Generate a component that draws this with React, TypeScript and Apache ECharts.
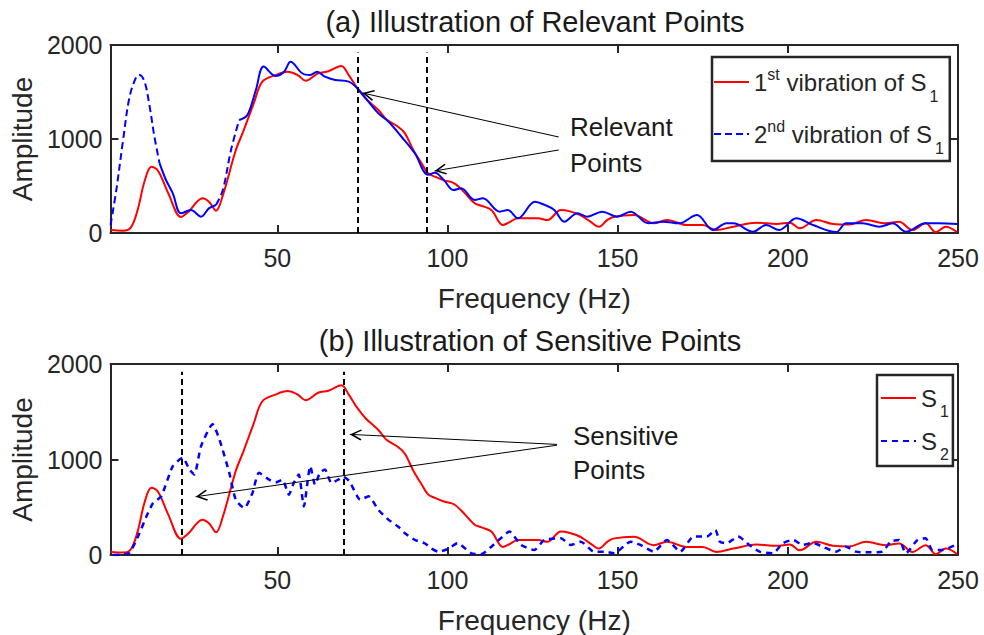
import React, { useEffect, useRef } from 'react';
import * as echarts from 'echarts';

// Frequency axis (Hz) and amplitude axis settings
const FREQ_MIN = 1;
const FREQ_MAX = 250;
const freqTicks = [50, 100, 150, 200, 250];
const AMP_MAX = 2000;
const AMP_STEP = 1000;

// Spectrum of the 1st vibration of S1 — [frequency (Hz), amplitude]
const s1First: [number, number][] = [
  [1, 32], [4.7, 25], [7, 60], [9, 250], [11, 550], [13, 705], [15, 660], [18, 420],
  [21.7, 170], [24, 230], [28, 370], [30, 330], [32, 237], [34, 400], [37.8, 880],
  [40, 1080], [43, 1370], [45.6, 1610], [49.5, 1680], [53, 1716], [56, 1680],
  [58.3, 1620], [62, 1699], [65, 1720], [68.8, 1777], [71, 1680], [73.5, 1540],
  [76, 1430], [79.7, 1309], [82, 1210], [85.5, 1131], [87.5, 1060], [90, 880],
  [92.4, 741], [94.3, 635], [96.3, 599], [99, 560], [102, 529], [105, 430], [108, 316],
  [110, 290], [112.9, 245], [116.3, 85], [118, 110], [120.7, 156], [126.5, 156],
  [129.4, 138], [133.3, 245], [136, 230], [139, 191], [142, 120], [144.5, 67],
  [147, 140], [149, 174], [154.8, 191], [160.6, 103], [164.5, 138], [170.3, 85],
  [175, 85], [179, 32], [184, 67], [190.8, 110], [196.7, 96], [200.6, 110],
  [203.5, 50], [208.4, 138], [213.3, 96], [218, 90], [223, 138], [228.8, 103],
  [232.7, 120], [236.6, 32], [240.5, 103], [243.5, 8], [246.4, 67], [249.8, 8],
];

// Spectrum of the 2nd vibration of S1
const s1Second: [number, number][] = [
  [1, 85], [2.7, 457], [4.7, 990], [6.6, 1450], [8.6, 1663], [9.5, 1680], [11, 1610],
  [12.5, 1344], [13.9, 1024], [15.4, 744], [17.3, 564], [19.3, 422], [21.7, 209],
  [24.6, 244], [27.6, 174], [29.9, 262], [32, 298], [34, 457], [36.4, 883],
  [38.8, 1202], [41.2, 1255], [43.7, 1521], [46, 1770], [49.5, 1670], [52, 1716],
  [53.9, 1822], [57.3, 1699], [59.7, 1681], [61.7, 1716], [64, 1663], [67, 1628],
  [71, 1610], [73.5, 1540], [76.8, 1397], [79.7, 1273], [82.7, 1184], [86.5, 1024],
  [90.4, 848], [94.3, 620], [96.3, 640], [99, 560], [101.7, 457], [104, 475],
  [108, 351], [110.4, 369], [115.3, 227], [117.7, 244], [120.7, 156], [125.7, 333],
  [128.5, 300], [131.4, 245], [134.3, 120], [138.2, 209], [141, 174], [145.5, 227],
  [149.8, 174], [153.8, 227], [159, 103], [163.4, 121], [168, 103], [173.3, 191],
  [178, 32], [182, 103], [184, 103], [189.8, 14], [193.6, 85], [197.5, 32],
  [202.5, 156], [207.4, 85], [214.2, 10], [217.1, 103], [222, 103], [226.9, 67],
  [230.8, 103], [234.7, 14], [240.5, 103], [244.4, 103], [249.8, 96],
];

// Spectrum of S2
const s2Spectrum: [number, number][] = [
  [1.8, 0], [4, 5], [6.6, 24], [9.5, 228], [11.5, 400], [13.5, 544], [15.9, 614],
  [19.3, 930], [22.2, 1018], [24.2, 895], [25.6, 842], [27.6, 1140], [31, 1368],
  [33, 1210], [35.9, 860], [37.8, 579], [40.3, 491], [42.7, 649], [44.6, 860],
  [47.6, 789], [49.5, 760], [51.5, 789], [53.4, 632], [54.9, 760], [56.3, 842],
  [57.8, 509], [59.7, 930], [61.1, 737], [62.5, 860], [64, 895], [65.9, 754],
  [67.9, 789], [69.3, 822], [71.2, 772], [74.4, 579], [76.8, 614], [79.7, 474],
  [82.7, 368], [85.5, 298], [87.5, 228], [90.4, 158], [93.3, 123], [95.2, 70],
  [97.3, 35], [100, 60], [103, 123], [107, 18], [110, 10], [112.9, 87], [115.5, 170],
  [118.2, 245], [121.6, 105], [125.5, 53], [128.5, 158], [133.3, 175], [136.2, 105],
  [139.2, 140], [143, 35], [146, 35], [149, 18], [153.8, 140], [156.7, 105],
  [160.6, 35], [164.5, 158], [168.4, 35], [172.3, 193], [176.2, 193], [178.7, 263],
  [180, 140], [182, 122], [185.4, 193], [188.7, 105], [191.7, 35], [195.6, 18],
  [198.5, 122], [201.5, 158], [204.4, 105], [207.3, 128], [210.2, 87], [214.2, 35],
  [217.1, 87], [220, 35], [223.9, 28], [227.8, 35], [230.2, 140], [232.7, 158],
  [234.7, 18], [238.1, 158], [240.5, 175], [242.5, 53], [245.4, 53], [249.3, 105],
];

// Marked frequencies (Hz)
const relevantFreqs = [73.5, 94];
const sensitiveFreqs = [22, 69.5];

const FONT = '"Liberation Sans", Arial, Helvetica, sans-serif';
const INK = '#262626';
const RED = '#ff0000';
const BLUE = '#0000ff';

// open arrow head, apex at the top
const ARROW_HEAD = 'path://M0,0L6,10L4.8,11L0,3.2L-4.8,11L-6,10Z';

const NAME_FIRST = '1st vibration of S1';
const NAME_SECOND = '2nd vibration of S1';
const NAME_S1 = 'S1';
const NAME_S2 = 'S2';

const legendLabels: Record<string, string> = {
  [NAME_FIRST]: '{t|1}{sup|st}{t| vibration of S}{sub|1}',
  [NAME_SECOND]: '{t|2}{sup|nd}{t| vibration of S}{sub|1}',
  [NAME_S1]: '{t|S}{sub|1}',
  [NAME_S2]: '{t|S}{sub|2}',
};

// the dashed pattern of the 2nd vibration only shows on its steep stretches
const secondDashBreaks = [15.4, 32, 38.8];

function splitAt(points: [number, number][], cuts: number[]) {
  const parts: [number, number][][] = [[]];
  let ci = 0;
  for (const p of points) {
    parts[parts.length - 1].push(p);
    while (ci < cuts.length && p[0] >= cuts[ci]) {
      parts.push([p]);
      ci++;
    }
  }
  return parts.filter((p) => p.length > 1);
}

function freqAxes(gridIndex: number) {
  const line = { show: true, onZero: false, lineStyle: { color: INK, width: 2 } };
  const tick = { show: true, inside: true, length: 8, customValues: freqTicks, lineStyle: { color: INK, width: 2 } };
  return [
    {
      gridIndex, type: 'value', min: FREQ_MIN, max: FREQ_MAX, position: 'bottom',
      axisLine: line, axisTick: tick, splitLine: { show: false },
      axisLabel: { show: true, customValues: freqTicks, fontSize: 25, color: INK, fontFamily: FONT, margin: 12 },
      name: 'Frequency (Hz)', nameLocation: 'middle', nameGap: 51,
      nameTextStyle: { fontSize: 28, color: INK, fontFamily: FONT },
    },
    {
      gridIndex, type: 'value', min: FREQ_MIN, max: FREQ_MAX, position: 'top',
      axisLine: line, axisTick: tick, splitLine: { show: false },
      axisLabel: { show: false },
    },
  ];
}

function ampAxes(gridIndex: number) {
  const line = { show: true, onZero: false, lineStyle: { color: INK, width: 2 } };
  const tick = { show: true, inside: true, length: 8, lineStyle: { color: INK, width: 2 } };
  return [
    {
      gridIndex, type: 'value', min: 0, max: AMP_MAX, interval: AMP_STEP, position: 'left',
      axisLine: line, axisTick: tick, splitLine: { show: false },
      axisLabel: { fontSize: 25, color: INK, fontFamily: FONT, margin: 8, formatter: (v: number) => String(v) },
      name: 'Amplitude', nameLocation: 'middle', nameRotate: 90, nameGap: 68,
      nameTextStyle: { fontSize: 28, color: INK, fontFamily: FONT },
    },
    {
      gridIndex, type: 'value', min: 0, max: AMP_MAX, interval: AMP_STEP, position: 'right',
      axisLine: line, axisTick: tick, splitLine: { show: false },
      axisLabel: { show: false },
    },
  ];
}

function markerLines(freqs: number[]) {
  return {
    silent: true,
    symbol: ['none', 'none'],
    label: { show: false },
    lineStyle: { color: '#000', type: [6, 4], width: 2 },
    data: freqs.map((f) => [{ coord: [f, 0] }, { coord: [f, 1920] }]),
  };
}

function arrows(list: [[number, number], [number, number]][]) {
  return {
    silent: true,
    symbol: ['none', ARROW_HEAD],
    symbolSize: [11, 12],
    label: { show: false },
    lineStyle: { color: '#000', type: 'solid', width: 1 },
    data: list.map(([from, to]) => [
      { coord: from },
      { coord: to, symbolOffset: [0, 6] },
    ]),
  };
}

function legendBox(
  names: string[], left: number, top: number, padding: number[], itemGap: number,
  supHeight: number, subHeight: number,
) {
  return {
    data: names,
    orient: 'vertical',
    left, top, padding, itemGap,
    itemWidth: 35, itemHeight: 14,
    selectedMode: false,
    backgroundColor: '#fff',
    borderColor: INK,
    borderWidth: 2.5,
    borderRadius: 0,
    itemStyle: { color: 'transparent', borderWidth: 0, opacity: 0 },
    formatter: (name: string) => legendLabels[name],
    textStyle: {
      color: INK,
      fontFamily: FONT,
      fontSize: 24,
      lineHeight: 40,
      rich: {
        t: { fontSize: 24, lineHeight: 40, fontFamily: FONT, color: INK },
        sup: { fontSize: 16, height: supHeight, lineHeight: 40, verticalAlign: 'top', fontFamily: FONT, color: INK },
        sub: { fontSize: 16, height: subHeight, lineHeight: 40, verticalAlign: 'bottom', fontFamily: FONT, color: INK, padding: [0, 0, 0, 3] },
      },
    },
  };
}

function textMark(text: string, x: number, y: number, size: number, align: string) {
  return {
    type: 'text', x, y, silent: true,
    style: {
      text, fill: '#1a1a1a', fontSize: size, fontFamily: FONT,
      align, textAlign: align, verticalAlign: 'middle', textVerticalAlign: 'middle',
    },
  };
}

function buildOption() {
  const lineBase = { type: 'line', symbol: 'none', showSymbol: false, silent: true };
  const secondParts = splitAt(s1Second, secondDashBreaks);

  const series: any[] = [
    {
      ...lineBase, name: NAME_FIRST, xAxisIndex: 0, yAxisIndex: 0, smooth: 0.35,
      data: s1First, z: 3,
      lineStyle: { color: RED, width: 2 }, itemStyle: { color: RED },
      markLine: markerLines(relevantFreqs),
    },
    ...secondParts.map((part, i) => ({
      ...lineBase, name: NAME_SECOND, xAxisIndex: 0, yAxisIndex: 0, smooth: 0.35,
      data: part, z: 3,
      lineStyle: { color: BLUE, width: 2, type: i % 2 === 0 ? [7, 4] : 'solid' },
      itemStyle: { color: BLUE },
      ...(i === secondParts.length - 1
        ? { markLine: arrows([[[132.7, 1021], [75, 1490]], [[132.7, 883], [96.2, 660]]]) }
        : {}),
    })),
    {
      ...lineBase, name: NAME_S1, xAxisIndex: 2, yAxisIndex: 2, smooth: 0.35,
      data: s1First, z: 3,
      lineStyle: { color: RED, width: 2 }, itemStyle: { color: RED },
      markLine: markerLines(sensitiveFreqs),
    },
    {
      ...lineBase, name: NAME_S2, xAxisIndex: 2, yAxisIndex: 2, smooth: 0.2,
      data: s2Spectrum, z: 3,
      lineStyle: { color: BLUE, width: 2.5, type: [6, 5] }, itemStyle: { color: BLUE },
      markLine: arrows([[[132.2, 1158], [71.3, 1263]], [[132.2, 1150], [26, 610]]]),
    },
  ];

  return {
    animation: false,
    backgroundColor: '#ffffff',
    textStyle: { fontFamily: FONT },
    grid: [
      { left: 108, right: 26, top: 45, height: 188 },
      { left: 108, right: 26, top: 364, height: 191 },
    ],
    xAxis: [...freqAxes(0), ...freqAxes(1)],
    yAxis: [...ampAxes(0), ...ampAxes(1)],
    legend: [
      legendBox([NAME_FIRST, NAME_SECOND], 712, 57, [5, 6, 5, 1], 10, 24, 12),
      legendBox([NAME_S1, NAME_S2], 877, 375, [3, 4, 4, 3], 2, 24, 14),
    ],
    graphic: [
      textMark('(a) Illustration of Relevant Points', 535, 22, 29, 'center'),
      textMark('(b) Illustration of Sensitive Points', 530, 341, 29, 'center'),
      textMark('Relevant', 570, 127, 26, 'left'),
      textMark('Points', 570, 163, 26, 'left'),
      textMark('Sensitive', 573, 436, 26, 'left'),
      textMark('Points', 573, 470, 26, 'left'),
    ],
    series,
  };
}

export default function App() {
  const ref = useRef<HTMLDivElement>(null);

  useEffect(() => {
    if (!ref.current) return;
    const chart = echarts.init(ref.current, null, { renderer: 'svg' });
    chart.setOption(buildOption() as any);
    return () => chart.dispose();
  }, []);

  return (
    <div
      ref={ref}
      style={{ position: 'fixed', left: 0, top: 0, width: 984, height: 635, background: '#fff' }}
    />
  );
}
